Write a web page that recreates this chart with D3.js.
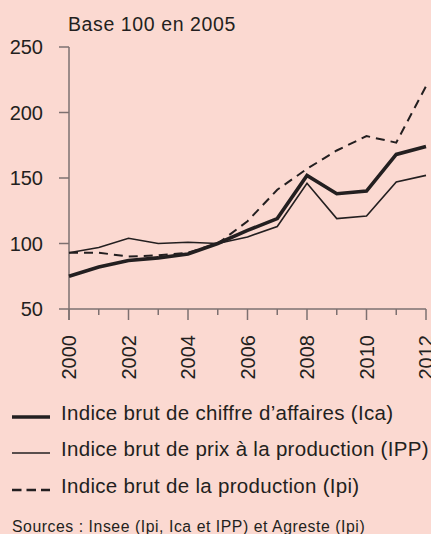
<!DOCTYPE html>
<html>
<head>
<meta charset="utf-8">
<script src="https://cdn.jsdelivr.net/npm/d3@7"></script>
<style>
  body { margin: 0; background: #fbd9d1; }
  svg { display: block; font-family: "Liberation Sans", Arial, sans-serif; }
</style>
</head>
<body>
<div id="chart"></div>
<script>
var years = [2000, 2001, 2002, 2003, 2004, 2005, 2006, 2007, 2008, 2009, 2010, 2011, 2012];
var ica = [75, 82, 87, 89, 92, 100, 110, 119, 152, 138, 140, 168, 174];
var ipp = [93, 97, 104, 100, 101, 100, 105, 113, 146, 119, 121, 147, 152];
var ipi = [93, 93, 90, 91, 93, 100, 117, 141, 157, 171, 182, 177, 220];
var yTicks = [50, 100, 150, 200, 250];
var legendLabels = ["Indice brut de chiffre d\u2019affaires (Ica)", "Indice brut de prix \u00e0 la production (IPP)", "Indice brut de la production (Ipi)"];

var width = 431, height = 534;
var svg = d3.select("#chart").append("svg")
    .attr("width", width)
    .attr("height", height);

svg.append("rect").attr("width", width).attr("height", height).attr("fill", "#fbd9d1");

var x = d3.scaleLinear().domain([2000, 2012]).range([69, 426]);
var y = d3.scaleLinear().domain([50, 250]).range([309, 47]);

var axisColor = "#7d7070";
var ink = "#231f20";

// y axis
svg.append("line")
    .attr("x1", 69).attr("x2", 69)
    .attr("y1", y(250)).attr("y2", 320)
    .attr("stroke", axisColor).attr("stroke-width", 1.5);

svg.selectAll(".ytick").data(yTicks).enter().append("line")
    .attr("x1", 59).attr("x2", 69)
    .attr("y1", d => y(d)).attr("y2", d => y(d))
    .attr("stroke", axisColor).attr("stroke-width", 1.5);

svg.selectAll(".ylab").data(yTicks).enter().append("text")
    .attr("x", 43).attr("y", d => y(d) + 7)
    .attr("text-anchor", "end")
    .attr("font-size", 20)
    .attr("fill", ink)
    .text(d => d);

// x axis
svg.append("line")
    .attr("x1", 69).attr("x2", 426)
    .attr("y1", 309).attr("y2", 309)
    .attr("stroke", axisColor).attr("stroke-width", 1.5);

svg.selectAll(".xtick").data(years).enter().append("line")
    .attr("x1", d => x(d)).attr("x2", d => x(d))
    .attr("y1", 309).attr("y2", d => d % 2 == 0 ? 320 : 315)
    .attr("stroke", axisColor).attr("stroke-width", 1.5);

svg.selectAll(".xlab").data(years.filter(d => d % 2 == 0)).enter().append("text")
    .attr("transform", d => "translate(" + (x(d) + 7) + ",335) rotate(-90)")
    .attr("text-anchor", "end")
    .attr("font-size", 20)
    .attr("fill", ink)
    .text(d => d);

svg.append("text")
    .attr("x", 68).attr("y", 31)
    .attr("font-size", 19.5)
    .attr("letter-spacing", 0.6)
    .attr("fill", ink)
    .text("Base 100 en 2005");

// series
var series = [
    {values: ipi, width: 2, dash: "9,6"},
    {values: ipp, width: 1.6, dash: null},
    {values: ica, width: 3.6, dash: null}
];

var line = d3.line()
    .x((d, i) => x(years[i]))
    .y(d => y(d));

series.forEach(function(s){
    svg.append("path")
        .attr("d", line(s.values))
        .attr("fill", "none")
        .attr("stroke", ink)
        .attr("stroke-width", s.width)
        .attr("stroke-dasharray", s.dash)
        .attr("stroke-linejoin", "miter");
});

// legend
var legendStyles = [
    {width: 3.6, dash: null},
    {width: 1.5, dash: null},
    {width: 2.5, dash: "9.5,5"}
];
var legendY = [417, 453, 490];

legendLabels.forEach(function(lab, i){
    svg.append("line")
        .attr("x1", 12).attr("x2", 50)
        .attr("y1", legendY[i]).attr("y2", legendY[i])
        .attr("stroke", ink)
        .attr("stroke-width", legendStyles[i].width)
        .attr("stroke-dasharray", legendStyles[i].dash);
    svg.append("text")
        .attr("x", 61).attr("y", legendY[i] + 2.5)
        .attr("font-size", 20.5)
        .attr("letter-spacing", 0.3)
        .attr("fill", ink)
        .text(lab);
});

svg.append("text")
    .attr("x", 12).attr("y", 532)
    .attr("font-size", 15.8)
    .attr("letter-spacing", 0.55)
    .attr("fill", ink)
    .text("Sources : Insee (Ipi, Ica et IPP) et Agreste (Ipi)");
</script>
</body>
</html>
